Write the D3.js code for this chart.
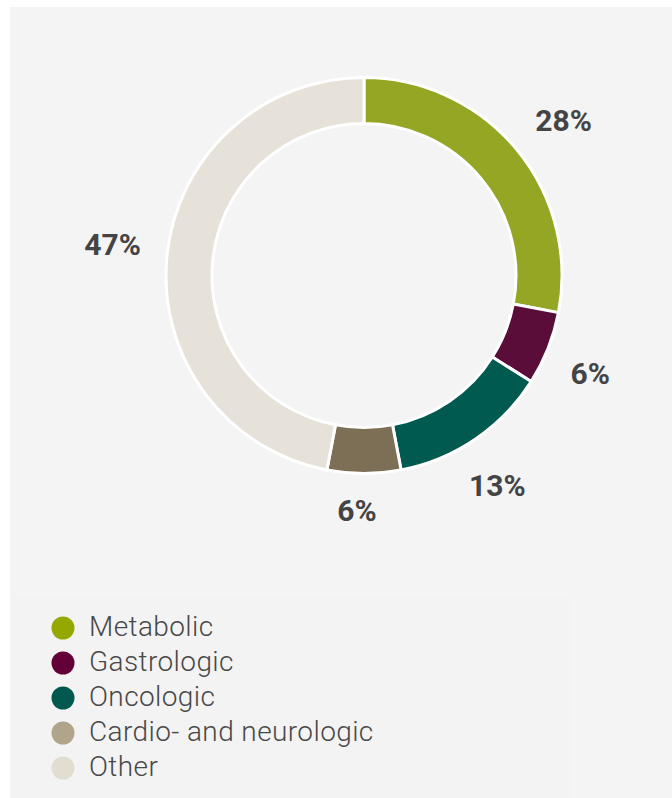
<!DOCTYPE html>
<html>
<head>
<meta charset="utf-8">
<script src="https://cdn.jsdelivr.net/npm/d3@7"></script>
<style>
  html, body { margin: 0; padding: 0; background: #fff; }
  svg { display: block; font-family: Roboto, "Noto Sans", sans-serif; }
</style>
</head>
<body>
<svg id="chart"></svg>
<script>
// data
const categories = ["Metabolic", "Gastrologic", "Oncologic", "Cardio- and neurologic", "Other"];
const shares = [28, 6, 13, 6, 47];
const labels = shares.map(v => v + "%");

const width = 672;
const height = 798;
const svg = d3.select("#chart").attr("width", width).attr("height", height);

// grey panel
svg.append("rect")
  .attr("x", 10).attr("y", 7)
  .attr("width", width - 10).attr("height", height - 7)
  .attr("fill", "#f4f4f4");
svg.append("rect")
  .attr("x", 10).attr("y", 597)
  .attr("width", 561).attr("height", height - 597)
  .attr("fill", "#f3f3f3");

const arcColor = d3.scaleOrdinal(categories, ["#95a524", "#5a0d38", "#005a50", "#7d6e56", "#e6e2d9"]);
const legendColor = d3.scaleOrdinal(categories, ["#95a800", "#640038", "#00584f", "#b0a48b", "#e1ddd1"]);

const cx = 364, cy = 275.5;
const outerR = 198, innerR = 152;

const rows = categories.map((c, i) => ({ name: c, value: shares[i], label: labels[i] }));

const pie = d3.pie().sort(null).value(d => d.value);
const arc = d3.arc().innerRadius(innerR).outerRadius(outerR);

const g = svg.append("g").attr("transform", `translate(${cx},${cy})`);

g.selectAll("path.slice")
  .data(pie(rows))
  .join("path")
  .attr("class", "slice")
  .attr("d", arc)
  .attr("fill", d => arcColor(d.data.name))
  .attr("stroke", "#fff")
  .attr("stroke-width", 3)
  .attr("stroke-linejoin", "miter");

// percentage labels, pushed out along the mid angle so the box sits clear of the ring
const labelGap = 224;
const capH = 21.5;
g.selectAll("text.pct")
  .data(pie(rows))
  .join("text")
  .attr("class", "pct")
  .attr("text-anchor", "middle")
  .attr("font-size", 30)
  .attr("font-weight", 700)
  .attr("fill", "#444")
  .text(d => d.data.label)
  .each(function(d) {
    const a = (d.startAngle + d.endAngle) / 2 + 0.03;
    const dx = Math.sin(a), dy = -Math.cos(a);
    const w = this.getComputedTextLength();
    const r = labelGap + Math.abs(dx) * w / 2 + Math.abs(dy) * capH / 2;
    d3.select(this)
      .attr("x", dx * r)
      .attr("y", dy * r + capH / 2);
  });

// legend
const ly = d3.scalePoint().domain(categories).range([628, 768]);
const legend = svg.append("g");
const item = legend.selectAll("g")
  .data(categories)
  .join("g")
  .attr("transform", d => `translate(63,${ly(d)})`);

item.append("circle")
  .attr("r", 11.5)
  .attr("fill", d => legendColor(d));

item.append("text")
  .attr("x", 26)
  .attr("y", 8)
  .attr("font-size", 28)
  .attr("font-weight", 300)
  .attr("letter-spacing", 0.4)
  .attr("fill", "#484848")
  .text(d => d);
</script>
</body>
</html>
